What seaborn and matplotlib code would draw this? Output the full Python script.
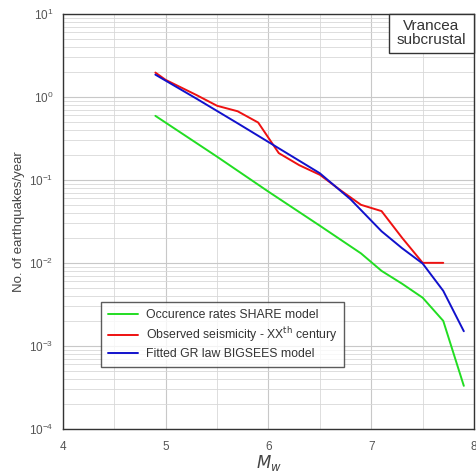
import numpy as np
import pandas as pd
import matplotlib
matplotlib.use("Agg")
import matplotlib.pyplot as plt
import seaborn as sns
from matplotlib.ticker import LogLocator, FixedLocator, NullFormatter
from matplotlib.patches import Rectangle

sns.set_theme(style="white")
plt.rcParams['font.family'] = ['Liberation Sans', 'DejaVu Sans']

green_m = [4.9, 5.5, 6.0, 6.5, 6.9, 7.1, 7.3, 7.5, 7.7, 7.9]
green_r = [0.59, 0.19, 0.072, 0.028, 0.013, 0.008, 0.0056, 0.0038, 0.002, 0.00033]

red_m = [4.9, 5.0, 5.3, 5.5, 5.7, 5.9, 6.1, 6.3, 6.5, 6.7, 6.9, 7.1, 7.3, 7.5, 7.7]
red_r = [1.96, 1.6, 1.05, 0.78, 0.67, 0.49, 0.21, 0.15, 0.115, 0.075, 0.05, 0.042, 0.02, 0.01, 0.01]

blue_m = [4.9, 5.3, 5.7, 6.1, 6.5, 6.8, 7.1, 7.3, 7.5, 7.7, 7.9]
blue_r = [1.85, 0.95, 0.48, 0.24, 0.12, 0.058, 0.024, 0.015, 0.0098, 0.0046, 0.0015]

labels = ["Occurence rates SHARE model",
          "Observed seismicity - XX$^{\\mathrm{th}}$ century",
          "Fitted GR law BIGSEES model"]
colors = ["#22dd22", "#ee1111", "#1111cc"]

df = pd.concat([
    pd.DataFrame({"M": green_m, "rate": green_r, "series": labels[0]}),
    pd.DataFrame({"M": red_m, "rate": red_r, "series": labels[1]}),
    pd.DataFrame({"M": blue_m, "rate": blue_r, "series": labels[2]}),
])

fig = plt.figure(figsize=(4.76, 4.76), dpi=100)
ax = fig.add_axes([0.132, 0.099, 0.864, 0.872])

sns.lineplot(data=df, x="M", y="rate", hue="series", palette=colors,
             hue_order=labels, ax=ax, linewidth=1.4, sort=False)

ax.set_yscale("log")
ax.set_xlim(4, 8)
ax.set_ylim(1e-4, 10)
ax.set_xticks([4, 5, 6, 7, 8])
ax.set_xticklabels(["4", "5", "6", "7", "8"])
ax.xaxis.set_minor_locator(FixedLocator([4.5, 5.5, 6.5, 7.5]))
ax.yaxis.set_major_locator(LogLocator(base=10, numticks=10))
ax.yaxis.set_minor_locator(LogLocator(base=10, subs=np.arange(2, 10), numticks=20))
ax.yaxis.set_minor_formatter(NullFormatter())

ax.grid(True, which="major", color="#c8c8c8", linewidth=0.8)
ax.grid(True, which="minor", color="#d8d8d8", linewidth=0.6)
ax.set_axisbelow(True)

ax.tick_params(axis="both", which="major", labelsize=8.5, colors="#555555",
               direction="in", length=3)
ax.tick_params(axis="x", which="major", pad=9)
ax.tick_params(axis="y", which="major", pad=7)
ax.tick_params(axis="both", which="minor", direction="in", length=2, color="#555555")
for s in ax.spines.values():
    s.set_color("#333333")
    s.set_linewidth(1.0)

ax.set_xlabel("$M_w$", fontsize=12, color="#444444", labelpad=0)
ax.set_ylabel("No. of earthquakes/year", fontsize=9.5, color="#444444", labelpad=3)

leg = ax.legend(loc="lower left", bbox_to_anchor=(0.093, 0.149), fontsize=8.8,
                frameon=True, fancybox=False, handlelength=2.5,
                borderpad=0.55, labelspacing=0.35, handletextpad=0.6,
                borderaxespad=0)
leg.get_frame().set_edgecolor("#333333")
leg.get_frame().set_linewidth(1.0)
for t in leg.get_texts():
    t.set_color("#333333")

ax.add_patch(Rectangle((0.793, 0.906), 0.207, 0.094, transform=ax.transAxes,
                       facecolor="white", edgecolor="#333333", linewidth=1.0,
                       zorder=5, clip_on=False))
ax.text(0.8965, 0.953, "Vrancea\nsubcrustal", transform=ax.transAxes,
        ha="center", va="center", fontsize=11, color="#333333",
        linespacing=1.0, zorder=6)

fig.savefig("out.png", dpi=100)
